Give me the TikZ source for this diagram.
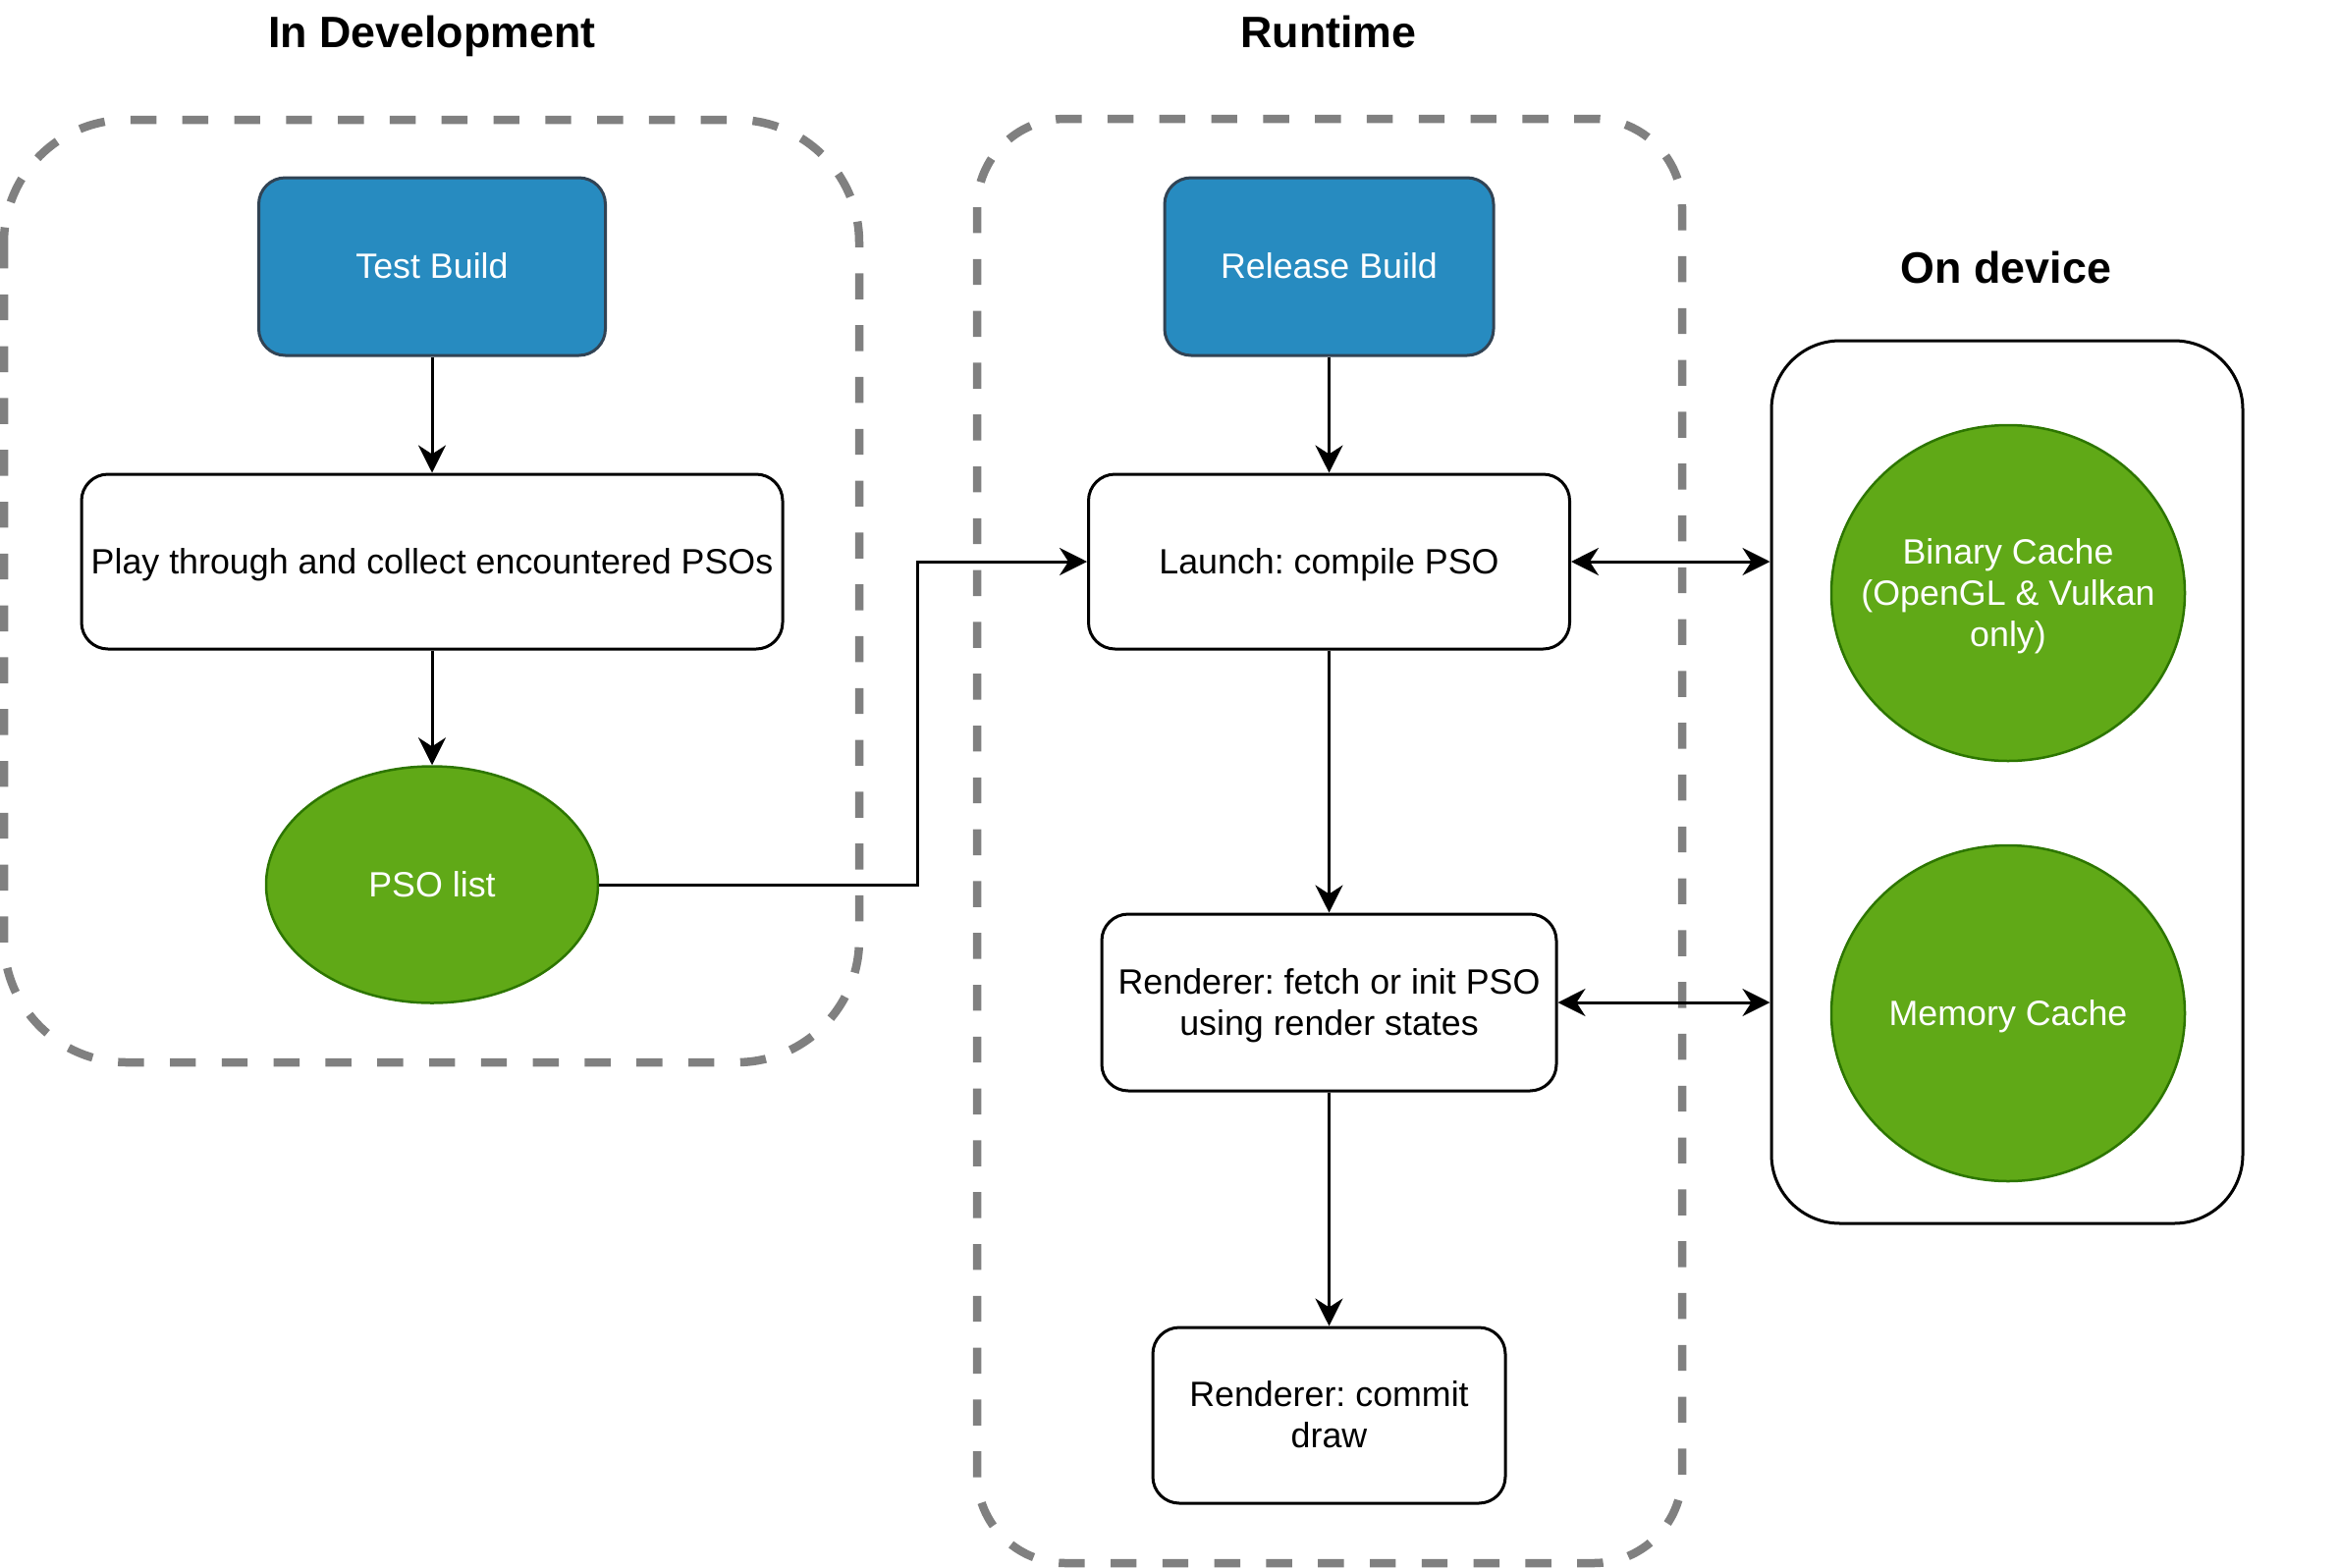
\documentclass[tikz,border=0pt]{standalone}
\usepackage{fontspec}
\setmainfont{Liberation Sans}
\usetikzlibrary{arrows.meta,shapes.geometric}
\definecolor{bluefill}{RGB}{39,139,192}
\definecolor{bluestroke}{RGB}{49,67,84}
\definecolor{greenfill}{HTML}{60A917}
\definecolor{greenstroke}{HTML}{2D7600}
\definecolor{dashgrey}{RGB}{128,128,128}
\newcommand{\lnst}{\rule[-0.212em]{0pt}{1.117em}}
\frenchspacing
\begin{document}
\begin{tikzpicture}[x=1pt,y=-1pt,
  base/.style={font=\fontsize{35.8}{42}\selectfont\frenchspacing, align=center, inner sep=0pt, line width=3pt},
  bluebox/.style={base, rectangle, rounded corners=27pt, draw=bluestroke, fill=bluefill, text=white},
  whitebox/.style={base, rectangle, rounded corners=27pt, draw=black, fill=white},
  greenell/.style={base, ellipse, draw=greenstroke, fill=greenfill, text=white, line width=2.5pt},
  titletext/.style={font=\fontsize{44.8}{52}\selectfont\bfseries, inner sep=0pt},
  container/.style={draw=dashgrey, line width=8.5pt, dash pattern=on 26.4pt off 26.4pt},
  conn/.style={line width=3pt, -{Stealth[length=28pt,width=28pt,inset=9pt]}},
  dconn/.style={line width=3pt, {Stealth[length=28pt,width=28pt,inset=9pt]}-{Stealth[length=28pt,width=28pt,inset=9pt]}}
]
\useasboundingbox (0,0) rectangle (2382,1596);

% containers
\draw[container, rounded corners=125pt] (4,122) rectangle (875,1082);
\draw[container, rounded corners=90pt] (995,121) rectangle (1713,1592);

% titles
\node[titletext] (tdev) at (440,33) {\lnst In Development};
\node[titletext] (trun) at (1353,33) {\lnst Runtime};
\node[titletext] (tdevice) at (2043,273) {\lnst On device};

% on device box
\node[rectangle, draw=black, line width=3pt, rounded corners=70pt, minimum width=480pt, minimum height=899pt, inner sep=0pt] (device) at (2044,796.5) {};

% left column
\node[bluebox, minimum width=353pt, minimum height=181pt] (test) at (440,271.5) {\lnst Test Build};
\node[whitebox, minimum width=714pt, minimum height=178pt] (play) at (440,572) {\lnst Play through and collect encountered PSOs};
\node[greenell, minimum width=338pt, minimum height=241pt] (pso) at (440,901) {\lnst PSO list};

% middle column
\node[bluebox, minimum width=335pt, minimum height=181pt] (release) at (1353.5,271.5) {\lnst Release Build};
\node[whitebox, minimum width=490pt, minimum height=178pt] (launch) at (1353.5,572) {\lnst Launch: compile PSO};
\node[whitebox, minimum width=463pt, minimum height=180pt] (fetch) at (1353.5,1021) {\lnst Renderer: fetch or init PSO\\\lnst using render states};
\node[whitebox, minimum width=359pt, minimum height=179pt] (commit) at (1353.5,1441.5) {\lnst Renderer: commit\\\lnst draw};

% on device caches
\node[greenell, minimum width=360pt, minimum height=342pt] (bin) at (2045,604) {};
\node[base, text=white] (bintext) at (bin) {\lnst Binary Cache\\\lnst (OpenGL \& Vulkan\\\lnst only)};
\node[greenell, minimum width=360pt, minimum height=342pt] (mem) at (2045,1032) {\lnst Memory Cache};

% connectors
\coordinate (bend) at (934,0);
\draw[conn] (test) -- (play);
\draw[conn] (play) -- (pso);
\draw[conn] (pso.east) -- (pso.east -| bend) -- (bend |- launch.west) -- (launch.west);
\draw[conn] (release) -- (launch);
\draw[conn] (launch) -- (fetch);
\draw[conn] (fetch) -- (commit);
\draw[dconn] (launch.east) -- (launch.east -| device.west);
\draw[dconn] (fetch.east) -- (fetch.east -| device.west);
\end{tikzpicture}
\end{document}
